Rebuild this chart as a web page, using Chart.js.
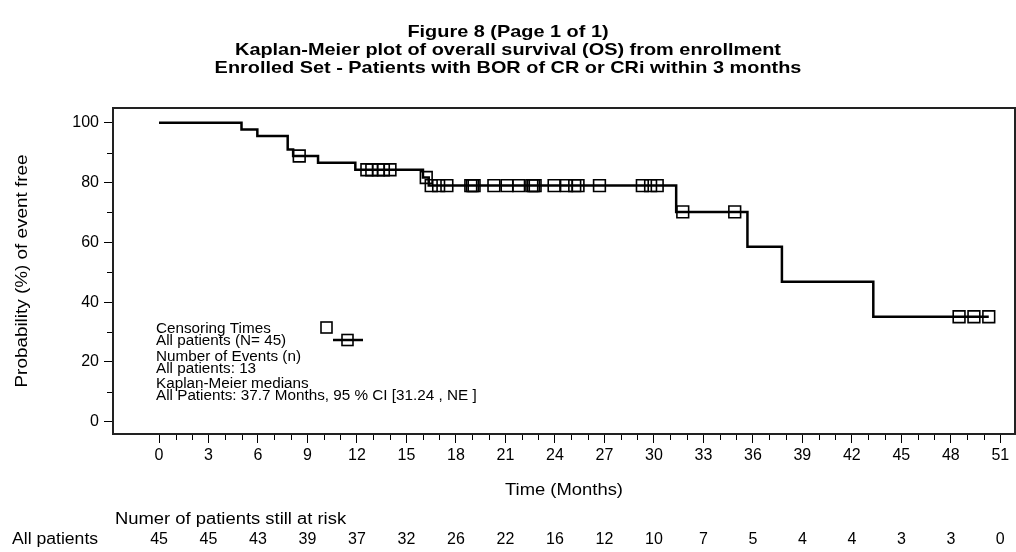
<!DOCTYPE html>
<html lang="en">
<head>
<meta charset="UTF-8">
<title>Kaplan-Meier plot of overall survival (OS)</title>
<script src="https://cdn.jsdelivr.net/npm/chart.js"></script>
<style>
  html, body { margin: 0; padding: 0; background: #fff; }
</style>
</head>
<body>
<canvas id="km" width="1016" height="552"></canvas>
<script>
// step points of the KM curve (month at which S drops, S after the drop)
const stepMonths = [0, 5.0, 5.96, 7.8, 8.13, 9.64, 11.9, 16.0, 16.35, 31.35, 35.67, 37.76, 43.3, 50.3];
const stepSurv   = [100, 97.8, 95.6, 91.1, 88.9, 86.6, 84.3, 81.7, 79.0, 70.2, 58.5, 46.8, 35.1, 35.1];

// censored patients
const censorMonths = [8.5, 12.6, 12.9, 13.3, 13.6, 14.0, 16.2, 16.5, 16.95, 17.45,
  18.9, 19.0, 19.1, 20.3, 21.1, 21.8, 22.6, 22.7, 22.8, 23.95,
  24.7, 25.2, 25.4, 26.7, 29.3, 29.8, 30.2, 31.75, 34.9, 48.5, 49.4, 50.3];
const censorSurv = [88.9, 84.3, 84.3, 84.3, 84.3, 84.3, 81.7, 79.0, 79.0, 79.0,
  79.0, 79.0, 79.0, 79.0, 79.0, 79.0, 79.0, 79.0, 79.0, 79.0,
  79.0, 79.0, 79.0, 79.0, 79.0, 79.0, 79.0, 70.2, 70.2, 35.1, 35.1, 35.1];

const xTicks = [0, 3, 6, 9, 12, 15, 18, 21, 24, 27, 30, 33, 36, 39, 42, 45, 48, 51];
const yTicks = [0, 20, 40, 60, 80, 100];
const atRisk = [45, 45, 43, 39, 37, 32, 26, 22, 16, 12, 10, 7, 5, 4, 4, 3, 3, 0];

const titleLines = [
  'Figure 8 (Page 1 of 1)',
  'Kaplan-Meier plot of overall survival (OS) from enrollment',
  'Enrolled Set - Patients with BOR of CR or CRi within 3 months'
];
const legendLines = [
  'Censoring Times', 'All patients (N= 45)',
  'Number of Events (n)', 'All patients: 13',
  'Kaplan-Meier medians', 'All Patients: 37.7 Months, 95 % CI [31.24 , NE ]'
];

const FONT = "'Liberation Sans', Arial, sans-serif";

// the source font runs a bit wider than Arial, so stretch text horizontally
function text(c, s, x, y, sx, rot) {
  c.save();
  c.translate(x, y);
  if (rot) c.rotate(rot);
  c.scale(sx, 1);
  c.fillText(s, 0, 0);
  c.restore();
}

const extras = {
  id: 'extras',
  afterDraw(chart) {
    const c = chart.ctx, a = chart.chartArea;
    const xs = chart.scales.x, ys = chart.scales.y;
    c.save();
    // frame
    c.strokeStyle = '#222';
    c.lineWidth = 2;
    c.strokeRect(a.left, a.top, a.right - a.left, a.bottom - a.top);

    // minor ticks
    c.strokeStyle = '#000';
    c.lineWidth = 1;
    c.beginPath();
    for (let m = 1; m < 51; m++) {
      if (m % 3 === 0) continue;
      const px = Math.round(xs.getPixelForValue(m)) + 0.5;
      c.moveTo(px, a.bottom + 1);
      c.lineTo(px, a.bottom + 6);
    }
    for (let v = 10; v < 100; v += 20) {
      const py = Math.round(ys.getPixelForValue(v)) + 0.5;
      c.moveTo(a.left - 1, py);
      c.lineTo(a.left - 6, py);
    }
    c.stroke();

    c.fillStyle = '#000';
    // title
    c.font = 'bold 17px ' + FONT;
    c.textAlign = 'center';
    c.textBaseline = 'alphabetic';
    titleLines.forEach((t, i) => text(c, t, 508, 37 + i * 18, 1.17));

    // axis titles
    c.font = '16px ' + FONT;
    c.textBaseline = 'middle';
    text(c, 'Time (Months)', (a.left + a.right) / 2, 491, 1.15);
    text(c, 'Probability (%) of event free', 23, (a.top + a.bottom) / 2, 1.18, -Math.PI / 2);

    // number at risk
    c.textAlign = 'left';
    text(c, 'Numer of patients still at risk', 115, 520, 1.15);
    text(c, 'All patients', 12, 540, 1.1);
    c.textAlign = 'center';
    atRisk.forEach((n, i) => c.fillText(String(n), xs.getPixelForValue(xTicks[i]), 540));

    // legend block
    c.font = '14px ' + FONT;
    c.textAlign = 'left';
    const ly = [329, 341, 357, 369, 384, 396];
    legendLines.forEach((t, i) => text(c, t, 156, ly[i], 1.09));
    c.strokeStyle = '#000';
    c.lineWidth = 1.6;
    c.strokeRect(321, 322, 11, 11);
    c.lineWidth = 2.5;
    c.beginPath();
    c.moveTo(333, 340);
    c.lineTo(363, 340);
    c.stroke();
    c.lineWidth = 1.6;
    c.strokeRect(342, 334.5, 11, 11);
    c.restore();
  }
};

new Chart(document.getElementById('km'), {
  type: 'line',
  data: {
    datasets: [
      {
        label: 'All patients',
        data: stepMonths.map((m, i) => ({ x: m, y: stepSurv[i] })),
        stepped: 'before',
        borderColor: '#000',
        borderWidth: 2.5,
        pointRadius: 0,
        fill: false
      },
      {
        label: 'Censoring Times',
        data: censorMonths.map((m, i) => ({ x: m, y: censorSurv[i] })),
        showLine: false,
        pointStyle: 'rect',
        pointRadius: 8.3,
        pointBorderWidth: 1.6,
        pointBorderColor: '#000',
        pointBackgroundColor: 'rgba(0,0,0,0)'
      }
    ]
  },
  options: {
    responsive: false,
    devicePixelRatio: 1,
    animation: false,
    layout: { autoPadding: false, padding: { top: 108, right: 1, left: 0, bottom: 0 } },
    plugins: { legend: { display: false }, tooltip: { enabled: false } },
    scales: {
      x: {
        type: 'linear',
        min: -2.79,
        max: 51.89,
        afterBuildTicks: s => { s.ticks = xTicks.map(v => ({ value: v })); },
        afterFit: s => { s.height = 118; s.paddingLeft = 0; s.paddingRight = 0; },
        ticks: { color: '#000', font: { family: FONT, size: 16 }, padding: 3, maxRotation: 0, autoSkip: false },
        grid: { drawOnChartArea: false, drawTicks: true, tickLength: 9, color: '#000' },
        border: { display: false }
      },
      y: {
        min: -4.12,
        max: 104.96,
        afterBuildTicks: s => { s.ticks = yTicks.map(v => ({ value: v })); },
        afterFit: s => { s.width = 113; s.paddingTop = 0; s.paddingBottom = 0; },
        ticks: { color: '#000', font: { family: FONT, size: 16 }, padding: 5 },
        grid: { drawOnChartArea: false, drawTicks: true, tickLength: 9, color: '#000' },
        border: { display: false }
      }
    }
  },
  plugins: [extras]
});
</script>
</body>
</html>
